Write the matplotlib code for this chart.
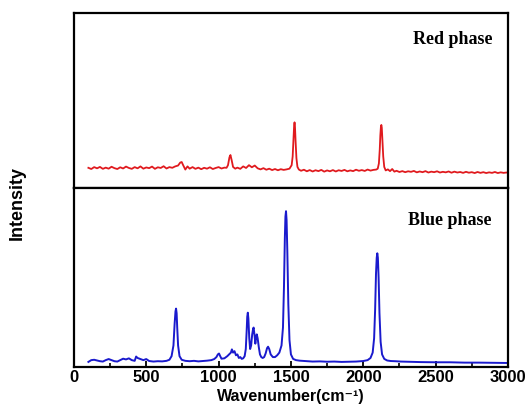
import matplotlib
matplotlib.use("Agg")
import matplotlib.pyplot as plt
from matplotlib.ticker import MultipleLocator

# Red phase spectrum (wavenumber, intensity a.u.)
red_x = [100,120,140,160,180,200,220,240,260,280,300,320,340,360,380,400,420,440,460,480,
         500,520,540,560,580,600,620,640,660,680,700,
         720,735,745,755,770,785,800,
         820,840,860,880,900,920,940,960,980,1000,1020,1040,
         1055,1065,1075,1082,1090,1100,1115,
         1130,1150,1170,1190,1210,1230,1250,1270,1290,1310,1330,1350,1370,1390,1410,1430,1450,1470,1490,
         1505,1512,1518,1522,1525,1528,1532,1538,1545,1555,
         1570,1590,1610,1630,1650,1670,1690,1710,1730,1750,1770,1790,1810,1830,1850,1870,1890,1910,1930,1950,
         1970,1990,2010,2030,2050,2070,2090,
         2100,2108,2114,2118,2122,2125,2128,2132,2138,2145,2155,2170,2185,2200,2215,
         2230,2250,2270,2290,2310,2330,2350,2370,2390,2410,2430,2450,2470,2490,2510,2530,2550,2570,2590,2610,
         2630,2650,2670,2690,2710,2730,2750,2770,2790,2810,2830,2850,2870,2890,2910,2930,2950,2970,2990,3000]
red_y = [11.5,10.8,11.9,11.2,12.0,10.9,11.6,11.0,12.1,11.3,10.8,11.8,11.1,12.2,11.4,10.9,11.9,11.2,12.3,11.0,
         11.7,11.3,12.2,10.9,11.8,11.4,12.4,11.1,11.9,11.5,12.3,
         12.8,14.5,14.8,13.0,10.5,12.3,11.0,
         11.9,10.9,11.6,10.7,11.5,11.0,11.8,10.8,11.4,11.9,11.1,11.6,
         11.5,13.0,17.5,18.8,16.0,12.0,11.0,
         11.6,10.9,12.3,11.4,13.0,11.8,12.8,11.2,10.6,11.3,10.4,11.0,10.2,10.8,10.1,10.7,10.3,10.6,11.0,
         13.0,18.0,28.0,35.5,37.5,35.0,27.0,17.0,12.0,10.5,
         9.8,10.4,9.5,10.2,9.4,10.1,9.6,10.3,9.3,10.0,9.5,10.2,9.4,10.1,9.7,10.3,9.5,10.0,9.6,10.4,
         9.8,10.2,9.7,10.5,9.9,10.3,10.5,
         11.0,14.0,22.0,30.0,35.0,36.0,34.5,28.0,18.0,12.0,10.0,10.6,9.6,10.8,9.3,
         9.8,9.1,9.6,9.0,9.5,9.2,9.7,8.9,9.4,9.0,9.6,8.8,9.3,9.0,9.5,8.8,9.2,8.9,9.4,8.7,
         9.3,8.8,9.1,8.6,9.2,8.7,9.0,8.5,9.1,8.6,9.0,8.5,8.9,8.6,9.1,8.5,8.9,8.6,8.8,8.7]

# Blue phase spectrum
blue_x = [100,120,140,160,180,200,220,240,260,280,300,320,340,360,380,400,420,430,440,460,
          480,500,520,550,580,610,640,660,675,688,696,702,706,710,714,720,730,745,770,800,
          830,860,890,920,950,970,985,995,1003,1010,1020,1040,1060,1075,1085,1092,1100,1110,1120,1130,
          1140,1150,1160,1170,1180,1188,1194,1198,1202,1206,1212,1218,1225,1232,1238,1242,1248,1254,1260,1264,
          1270,1278,1286,1295,1305,1315,1325,1335,1342,1350,1360,1375,1390,1405,1420,1435,1445,1452,1458,1462,
          1466,1470,1475,1482,1490,1500,1515,1535,1560,1600,1650,1700,1750,1800,1850,1900,1950,2000,2030,2050,
          2065,2075,2082,2088,2093,2097,2101,2106,2112,2120,2130,2145,2165,2190,2220,2260,2300,2400,2500,2600,
          2700,2800,2900,3000]
blue_y = [2.8,3.8,4.0,3.6,3.2,3.0,3.8,4.4,3.8,3.2,3.0,3.8,4.6,4.2,4.8,3.8,3.4,5.8,5.0,4.4,
          3.8,4.4,3.3,3.0,3.2,3.1,3.4,4.0,6.0,12.0,24.0,31.0,32.6,30.0,22.0,12.0,6.0,4.0,3.4,3.2,
          3.4,3.1,3.3,3.5,3.8,4.4,5.5,7.0,7.5,6.2,4.6,4.8,6.0,7.2,8.0,9.8,8.0,8.8,6.5,7.0,
          5.0,5.5,4.5,4.8,6.0,10.0,20.0,28.0,30.3,27.0,16.0,10.0,12.0,18.0,21.0,22.0,18.0,13.0,17.0,18.2,
          16.0,11.0,7.0,5.5,5.0,5.5,7.5,10.5,11.3,10.0,7.0,5.5,5.5,6.5,8.0,12.0,22.0,45.0,72.0,84.0,
          87.0,82.0,65.0,35.0,15.0,7.0,4.5,3.8,3.5,3.3,3.0,3.1,2.9,3.0,2.8,2.9,3.0,3.3,3.8,5.0,
          8.0,16.0,32.0,52.0,61.0,63.5,61.0,50.0,30.0,14.0,7.0,4.5,3.6,3.3,3.2,3.0,2.9,2.7,2.6,2.6,
          2.4,2.4,2.3,2.2]

xticks = [0, 500, 1000, 1500, 2000, 2500, 3000]

plt.rcParams['font.family'] = ['Liberation Sans', 'DejaVu Sans']

fig = plt.figure(figsize=(5.28, 4.05), dpi=100)
ax1 = fig.add_axes([0.140, 0.536, 0.822, 0.432])
ax2 = fig.add_axes([0.140, 0.094, 0.822, 0.442])

ax1.plot(red_x, red_y, color='#e01a1e', lw=1.3)
ax2.plot(blue_x, blue_y, color='#1a1acd', lw=1.4)

for ax in (ax1, ax2):
    ax.set_xlim(0, 3000)
    ax.set_ylim(0, 100)
    for s in ax.spines.values():
        s.set_linewidth(1.6)
    ax.set_yticks([])

ax1.set_xticks([])
ax2.set_xticks(xticks)
ax2.xaxis.set_minor_locator(MultipleLocator(250))
ax2.tick_params(axis='x', which='major', direction='in', length=4, width=1.3, pad=2,
                labelsize=12, top=False)
ax2.tick_params(axis='x', which='minor', direction='in', length=3, width=1.2, top=False)
for lbl in ax2.get_xticklabels():
    lbl.set_fontweight('bold')
ax2.set_yticks([100])
ax2.set_yticklabels([])
ax2.tick_params(axis='y', direction='in', length=4, width=1.3)

fig.text(0.140 + 0.822 / 2, 1 - 397/405, 'Wavenumber(cm\u207b\u00b9)', fontsize=11.5,
         fontweight='bold', ha='center', va='center')
fig.text(17/528, 1-203/405, 'Intensity', rotation=90, fontsize=13, fontweight='bold',
         ha='center', va='center')

ax1.text(0.965, 0.85, 'Red phase', transform=ax1.transAxes, ha='right', va='center',
         fontsize=13, fontweight='bold', family=['Liberation Serif', 'DejaVu Serif'])
ax2.text(0.963, 0.82, 'Blue phase', transform=ax2.transAxes, ha='right', va='center',
         fontsize=13, fontweight='bold', family=['Liberation Serif', 'DejaVu Serif'])

fig.savefig('out.png', dpi=100)
